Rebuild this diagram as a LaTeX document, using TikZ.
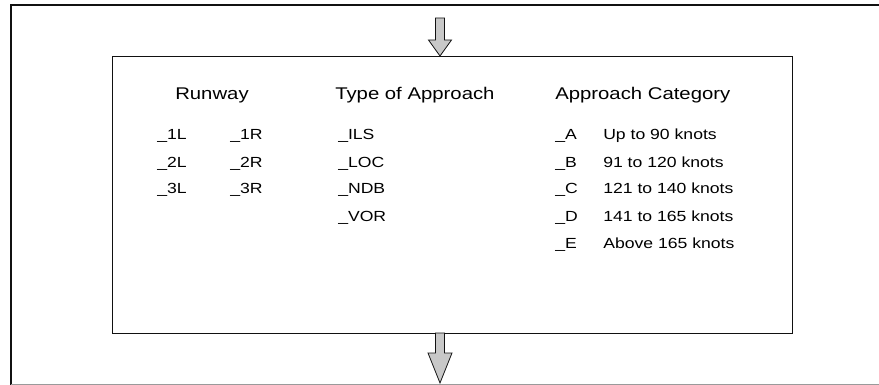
\documentclass[tikz,border=0pt]{standalone}
\usepackage{fontspec}
\setmainfont{Liberation Sans}[FakeStretch=1.2]
\usepackage{xcolor}
\usepackage{tikz}
\usetikzlibrary{positioning,calc}
\definecolor{ink}{HTML}{111111}
\definecolor{rule}{HTML}{9A9A9A}
\definecolor{dotfill}{HTML}{C8C8C8}
\tikzset{
  frame/.style  ={draw=ink,line width=1.5pt},
  baseline/.style={draw=rule,line width=0.6pt},
  panel/.style  ={draw=ink,line width=0.8pt,inner sep=0pt,anchor=north west,
                  minimum width=510pt,minimum height=207.75pt},
  head/.style   ={anchor=base west,inner sep=0pt,font=\fontsize{12.7}{14}\selectfont},
  item/.style   ={anchor=base west,inner sep=0pt,font=\fontsize{11}{13}\selectfont},
  blockarrow/.style={draw=ink,line width=0.6pt,fill=dotfill,line join=miter}
}
\begin{document}
\begin{tikzpicture}[x=0.75pt,y=-0.75pt]
  \useasboundingbox (0,0) rectangle (879,385);
  % outer frame, open on the right
  \draw[frame] (879,5.5) -- (10.5,5.5) -- (10.5,385);
  \draw[baseline] (10.5,384) -- (879,384);
  \node[panel] (panel) at (112,56) {};
  % in and out arrows
  \coordinate (intip) at (440,56);
  \coordinate (outtip) at (440,383);
  \draw[blockarrow] ($(intip)+(-4.5,-38)$) -- ($(intip)+(-4.5,-16)$) -- ($(intip)+(-11.5,-16)$)
    -- (intip) -- ($(intip)+(11.5,-16)$) -- ($(intip)+(4.5,-16)$) -- ($(intip)+(4.5,-38)$) -- cycle;
  \draw[blockarrow] ($(outtip)+(-4.5,-50)$) -- ($(outtip)+(-4.5,-30)$) -- ($(outtip)+(-12,-30)$)
    -- (outtip) -- ($(outtip)+(12,-30)$) -- ($(outtip)+(4.5,-30)$) -- ($(outtip)+(4.5,-50)$) -- cycle;
  % column heads
  \node[head] (runway) at (175,100) {Runway};
  \node[head] (type) at (335,100) {Type of Approach};
  \node[head] (cat) at (555,100) {Approach Category};
  % runway column
  \foreach \n [count=\i] in {1,2,3} {
    \node[item] (left\n) at (157,{113+27*\i}) {\_\n L};
    \node[item] (right\n) at (230,{113+27*\i}) {\_\n R};
  }
  % approach types
  \foreach \t [count=\i] in {ILS,LOC,NDB,VOR}
    \node[item] (type\t) at (338,{113+27*\i}) {\_\t};
  % approach categories
  \foreach \c/\spd [count=\i] in {A/Up to 90 knots,B/91 to 120 knots,C/121 to 140 knots,
                                  D/141 to 165 knots,E/Above 165 knots} {
    \node[item] (cat\c) at (555,{113+27*\i}) {\_\c};
    \node[item] (speed\c) at (603,{113+27*\i}) {\spd};
  }
\end{tikzpicture}
\end{document}
